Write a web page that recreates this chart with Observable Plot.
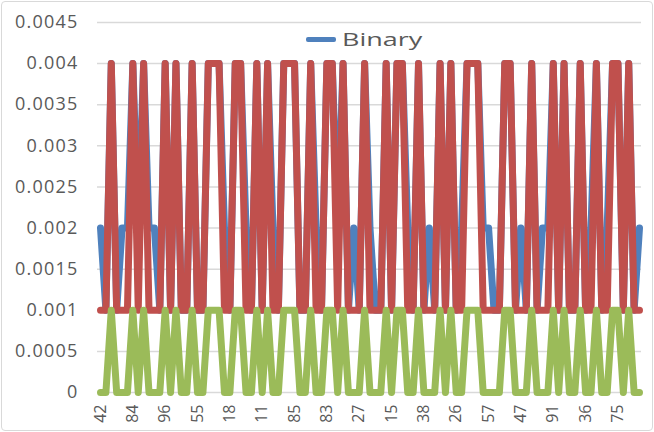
<!DOCTYPE html>
<html><head><meta charset="utf-8">
<script src="https://cdn.jsdelivr.net/npm/d3@7"></script>
<script src="https://cdn.jsdelivr.net/npm/@observablehq/plot@0.6"></script>
<style>
body{margin:0;background:#fff;}
#wrap{position:relative;width:654px;height:432px;overflow:hidden;font-family:"Open Sans",sans-serif;}
#border{position:absolute;left:1px;top:1px;width:650px;height:428px;border:1px solid #d9d9d9;border-radius:4px;pointer-events:none;}
#legend{position:absolute;left:306px;top:27px;display:flex;align-items:center;font-size:19px;color:#595959;line-height:24px;}
#legend .sw{display:inline-block;width:30px;height:5px;background:#4f81bd;margin-right:6px;border-radius:2px;}
#legend .lt{display:inline-block;transform:scaleX(1.42);transform-origin:left center;}
#chart{position:absolute;left:0;top:0;}
#chart g[aria-label="y-axis tick label"] text{letter-spacing:1.2px;}
</style></head>
<body><div id="wrap"><div id="chart"></div><div id="border"></div><div id="legend"><span class="sw"></span><span class="lt">Binary</span></div></div>
<script>
const xTickLabels = ["42","84","96","55","18","11","85","83","27","15","38","26","57","47","91","36","75"];
const labelStep = 6;
const yTicks = [0,0.0005,0.001,0.0015,0.002,0.0025,0.003,0.0035,0.004,0.0045];

const binary = [
0.002,0.001,0.004,0.001,0.002,0.002,0.004,0.002,0.004,0.002,
0.002,0.001,0.004,0.001,0.004,0.001,0.001,0.004,0.001,0.001,
0.004,0.004,0.004,0.002,0.001,0.004,0.004,0.002,0.001,0.004,
0.001,0.004,0.002,0.001,0.004,0.004,0.004,0.001,0.001,0.004,
0.002,0.001,0.004,0.004,0.002,0.004,0.001,0.002,0.001,0.004,
0.002,0.001,0.001,0.004,0.001,0.004,0.004,0.002,0.001,0.004,
0.001,0.002,0.001,0.004,0.001,0.004,0.001,0.002,0.004,0.004,
0.004,0.002,0.002,0.001,0.001,0.004,0.004,0.001,0.002,0.001,
0.004,0.001,0.002,0.002,0.004,0.001,0.004,0.001,0.001,0.004,
0.001,0.002,0.004,0.001,0.002,0.004,0.004,0.001,0.004,0.001,
0.002];

const series2 = [
0.001,0.001,0.004,0.001,0.001,0.001,0.004,0.001,0.004,0.001,
0.001,0.001,0.004,0.001,0.004,0.001,0.001,0.004,0.001,0.001,
0.004,0.004,0.004,0.001,0.001,0.004,0.004,0.001,0.001,0.004,
0.001,0.004,0.001,0.001,0.004,0.004,0.004,0.001,0.001,0.004,
0.001,0.001,0.004,0.004,0.001,0.004,0.001,0.001,0.001,0.004,
0.001,0.001,0.001,0.004,0.001,0.004,0.004,0.001,0.001,0.004,
0.001,0.001,0.001,0.004,0.001,0.004,0.001,0.001,0.004,0.004,
0.004,0.001,0.001,0.001,0.001,0.004,0.004,0.001,0.001,0.001,
0.004,0.001,0.001,0.001,0.004,0.001,0.004,0.001,0.001,0.004,
0.001,0.001,0.004,0.001,0.001,0.004,0.004,0.001,0.004,0.001,
0.001];

const series3 = [
0,0,0.001,0,0,0,0.001,0,0.001,0,
0,0,0.001,0,0.001,0,0,0.001,0,0,
0.001,0.001,0.001,0,0,0.001,0.001,0,0,0.001,
0,0.001,0,0,0.001,0.001,0.001,0,0,0.001,
0,0,0.001,0.001,0,0.001,0,0,0,0.001,
0,0,0,0.001,0,0.001,0.001,0,0,0.001,
0,0,0,0.001,0,0.001,0,0,0.001,0.001,
0.001,0,0,0,0,0.001,0.001,0,0,0,
0.001,0,0,0,0.001,0,0.001,0,0,0.001,
0,0,0.001,0,0,0.001,0.001,0,0.001,0,
0];

const lineOpts = {strokeWidth:7, strokeLinejoin:"round", strokeLinecap:"round"};
const chart = Plot.plot({
  width:654, height:432,
  marginLeft:97, marginRight:13, marginTop:22, marginBottom:40,
  style:{fontFamily:'"Open Sans", sans-serif', color:"#595959", background:"transparent", overflow:"visible"},
  x:{domain:[0, binary.length-1], range:[100,639]},
  y:{domain:[0,0.0045], range:[392,22]},
  marks:[
    Plot.gridY(yTicks, {stroke:"#d9d9d9", strokeOpacity:1, strokeWidth:1.5}),
    Plot.axisY(yTicks, {tickSize:0, tickPadding:19, tickFormat:d=>String(d), fontSize:18}),
    Plot.axisX(xTickLabels.map((_, j) => j*labelStep), {tickSize:0, tickPadding:12, tickRotate:-90, tickFormat:d=>xTickLabels[d/labelStep], fontSize:16}),
    Plot.lineY(binary, {...lineOpts, stroke:"#4f81bd"}),
    Plot.lineY(series2, {...lineOpts, stroke:"#c0504d"}),
    Plot.lineY(series3, {...lineOpts, stroke:"#9bbb59"})
  ]
});
document.getElementById("chart").appendChild(chart);
</script>
</body></html>
